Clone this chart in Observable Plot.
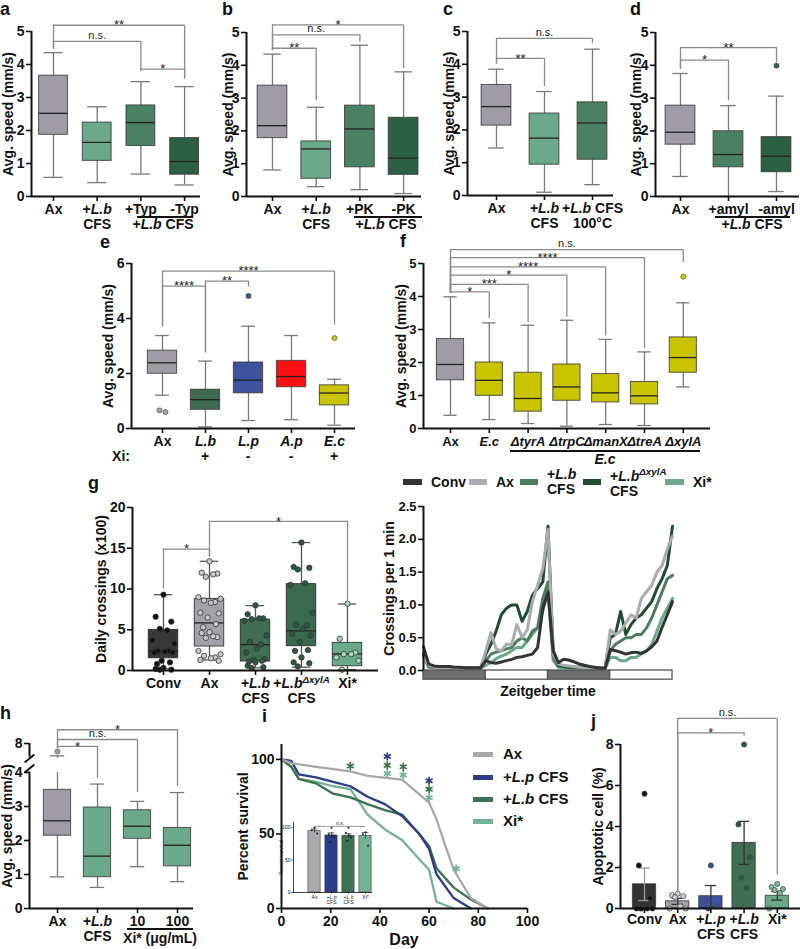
<!DOCTYPE html>
<html>
<head>
<meta charset="utf-8">
<script src="https://cdn.jsdelivr.net/npm/d3@7"></script>
<script src="https://cdn.jsdelivr.net/npm/@observablehq/plot@0.6"></script>
<style>
html,body{margin:0;padding:0;background:#fff;}
#fig{position:relative;width:800px;height:949px;overflow:hidden;background:#fff;font-family:"Liberation Sans",Arial,Helvetica,sans-serif;color:#111;}
#fig svg{position:absolute;overflow:visible;background:transparent;max-width:none;}
#fig .t{position:absolute;white-space:nowrap;line-height:1;}
#fig .ln{position:absolute;}
#fig sup{font-size:70%;vertical-align:baseline;position:relative;top:-0.6em;}
</style>
</head>
<body>
<div id="fig"></div>
<script>
// ================= DATA =================
// a
const aCats = ["Ax", "+_L.b_\nCFS", "+Typ", "-Typ"];
const aStats = [[0.58,1.87,2.52,3.66,4.36],[0.42,1.08,1.64,2.24,2.72],[0.68,1.53,2.24,2.76,3.48],[0.35,0.66,1.06,1.77,3.33]];
const aSig = [[0,3,5.19,4.46,3.56,"**"],[0,2,4.70,4.46,3.80,"n.s."],[2,3,3.86,3.80,3.56,"*"]];
// b
const bCats = ["Ax", "+_L.b_\nCFS", "+PK", "-PK"];
const bStats = [[0.81,1.78,2.16,3.38,4.34],[0.30,0.54,1.45,1.68,2.72],[0.21,0.89,2.06,2.77,4.61],[0.09,0.66,1.17,2.40,3.80]];
const bSig = [[0,3,5.23,4.45,3.90,"*"],[0,2,4.93,4.45,4.70,"n.s."],[0,1,4.52,4.45,2.92,"**"]];
// c
const cCats = ["Ax", "+_L.b_\nCFS", "+_L.b_ CFS\n100°C"];
const cStats = [[1.45,2.13,2.71,3.37,3.85],[0.10,0.94,1.75,2.50,3.17],[0.33,1.09,2.21,2.84,4.46]];
const cSig = [[0,2,4.79,4.0,4.63,"n.s."],[0,1,4.18,4.0,3.32,"**"]];
// d
const dCats = ["Ax", "+amyl", "-amyl"];
const dStats = [[0.61,1.58,1.96,2.77,3.75],[0.0,0.89,1.28,1.99,2.77],[0.15,0.74,1.23,1.81,3.06]];
const dOut = [[2,3.99]];
const dSig = [[0,2,4.54,3.88,4.08,"**"],[0,1,4.16,3.88,2.92,"*"]];
// e
const eCats = ["Ax","_L.b_","_L.p_","_A.p_","_E.c_"];
const eXi = ["", "+", "-", "-", "+"];
const eStats = [[1.21,1.99,2.39,2.83,3.38],[0.06,0.68,1.05,1.41,2.45],[0.29,1.28,1.76,2.40,3.72],[0.32,1.50,1.89,2.46,3.38],[0.12,0.84,1.29,1.57,1.79]];
const eOut = [[0,0.66],[0,0.60],[2,4.82],[4,3.29]];
const eSig = [[0,4,5.72,3.70,3.76,"****"],[0,1,5.18,3.70,2.75,"****"],[1,2,5.36,2.75,5.15,"**"]];
// f
const fCats = ["Ax","_E.c_","_ΔtyrA_","_ΔtrpC_","_ΔmanX_","_ΔtreA_","_ΔxylA_"];
const fStats = [[0.40,1.46,1.94,2.71,3.99],[0.27,0.99,1.46,2.00,3.20],[0.15,0.51,0.91,1.69,3.13],[0.07,0.84,1.26,1.94,3.28],[0.12,0.79,1.08,1.65,2.70],[0.09,0.73,0.99,1.41,2.32],[1.26,1.69,2.15,2.76,3.81]];
const fOut = [[6,4.60]];
const fSig = [[0,6,5.42,4.10,5.03,"n.s."],[0,5,5.18,4.10,2.43,"****"],[0,4,4.90,4.10,2.80,"****"],[0,3,4.65,4.10,3.37,"*"],[0,2,4.37,4.10,3.22,"***"],[0,1,4.14,4.10,3.33,"*"]];
// g (left)
const gCats = ["Conv","Ax","+_L.b_\nCFS","+_L.b_^_ΔxylA_^\nCFS","Xi*"];
const gStats = [[0.2,1.5,2.37,4.98,9.3],[1.3,2.94,5.84,8.78,13.4],[0.33,1.10,3.18,6.24,7.96],[0.4,2.98,4.86,10.6,15.7],[0.1,0.53,2.04,3.39,8.16]];
const gPts = [
  [9.3,6.6,6.0,5.1,4.9,3.7,3.3,2.4,2.4,2.3,2.2,2.2,1.2,1.0,0.8,0.3,0.2,0.1,0.1],
  [13.4,12.0,11.9,11.5,11.8,9.0,8.8,8.6,8.4,8.3,7.1,7.0,6.5,5.7,5.3,4.7,4.6,4.1,4.0,4.2,2.4,2.0,1.8,1.6,1.5,1.3,1.2],
  [8.0,6.9,6.4,6.3,6.4,6.1,4.3,3.5,3.2,2.7,2.2,1.4,1.3,1.2,1.1,1.0,0.6,0.4,0.3],
  [15.7,12.7,12.6,12.4,10.7,10.5,7.1,5.6,5.55,5.1,4.5,4.3,3.5,2.5,2.4,1.6,1.0,0.9,0.5],
  [8.2,3.9,2.2,2.0,2.0,1.6,1.2,0.1]
];
const gSig = [[0,1,14.9,10.0,13.9,"*"],[1,4,18.3,13.9,8.6,"*"]];
// g (right): crossings per 1 min, hourly Zeitgeber time
const gHours = [0,1,2,3,4,5,6,7,8,9,10,11,12,13,14,15,16,17,18,19,20,21,22,23,24,25,26,27,28,29,30,31,32,33,34,35,36,37,38,39,40,41,42,43,44,45,46,47,48];
const gConv = [0.36,0.10,0.07,0.06,0.06,0.06,0.05,0.05,0.04,0.04,0.04,0.04, 0.15,0.12,0.11,0.13,0.15,0.17,0.20,0.21,0.23,0.25,0.35,0.95, 1.20,0.30,0.12,0.17,0.16,0.13,0.10,0.08,0.06,0.05,0.03,0.03, 0.32,0.30,0.28,0.25,0.27,0.28,0.26,0.30,0.36,0.45,0.66,0.85,1.05];
const gAx   = [0.20,0.08,0.05,0.04,0.04,0.04,0.03,0.03,0.03,0.03,0.03,0.03, 0.30,0.58,0.33,0.30,0.40,0.40,0.70,0.50,0.62,1.05,1.30,1.55, 2.15,0.25,0.10,0.08,0.07,0.06,0.05,0.04,0.04,0.04,0.03,0.03, 0.62,0.55,0.60,0.72,0.85,0.80,1.10,1.20,1.30,1.50,1.60,1.85,2.05];
const gXyl  = [0.25,0.07,0.05,0.04,0.04,0.04,0.04,0.04,0.04,0.04,0.04,0.04, 0.25,0.40,0.60,0.85,0.95,1.00,1.00,0.75,0.90,1.15,1.25,1.35, 2.20,0.30,0.08,0.06,0.05,0.05,0.05,0.05,0.04,0.04,0.04,0.04, 0.50,0.55,0.90,0.55,0.70,0.80,0.85,0.95,1.05,1.25,1.40,1.60,2.20];
const gLb   = [0.22,0.06,0.05,0.04,0.04,0.04,0.04,0.04,0.04,0.04,0.04,0.04, 0.15,0.25,0.28,0.30,0.33,0.35,0.45,0.50,0.45,0.60,0.65,1.10, 1.35,0.20,0.07,0.06,0.05,0.05,0.04,0.04,0.04,0.04,0.04,0.04, 0.30,0.40,0.45,0.50,0.50,0.55,0.55,0.65,0.80,1.00,1.20,1.40,1.45];
const gXi   = [0.20,0.05,0.04,0.03,0.03,0.03,0.03,0.03,0.03,0.03,0.03,0.03, 0.08,0.12,0.18,0.22,0.25,0.30,0.35,0.35,0.45,0.55,0.65,0.90, 1.20,0.15,0.05,0.04,0.04,0.04,0.03,0.03,0.03,0.03,0.03,0.03, 0.20,0.20,0.15,0.15,0.20,0.20,0.25,0.30,0.40,0.60,0.80,0.95,1.10];
const ldStart = [0,12,24,36], ldEnd = [12,24,36,48], ldDark = [true,false,true,false];
// h
const hCats = ["Ax","+_L.b_\nCFS","10","100"];
const hStats = [[0.93,2.14,2.58,3.49,6.3],[0.62,0.92,1.54,2.97,3.66],[1.23,2.05,2.42,2.89,3.15],[0.79,1.24,1.86,2.37,3.41]];
const hOut = [[0,6.9]];
const hSig = [[0,3,9.9,7.3,3.59,"*"],[0,2,8.55,7.3,3.41,"n.s."],[0,1,7.6,7.3,3.82,"*"]];
// i survival
const iAxDay = [0,4,14,28,35,49,60,63,66,70,77,84];
const iAxPct = [100,97.5,95,92,89,86.5,71,60,45,26,7,0];
const iLpDay = [0,4,7,14,21,28,35,42,49,56,60,63,70,77];
const iLpPct = [100,99,90,88,85,82,75,70,62,50,40,23,7,0];
const iLbDay = [0,4,7,14,21,28,35,42,49,56,60,63,70,77,84];
const iLbPct = [100,95,87,84,77,74.5,70,66,63,50,42,27,14,6,0];
const iXiDay = [0,4,7,14,21,28,35,42,49,56,60,63,70];
const iXiPct = [100,95,87,85,82,80,63,53,46,33,26,4.5,0];
const iStarDay = [28,43,43,43,49.5,49.5,60,60,60,71];
const iStarPct = [95.5,102,96,90.5,95,89.5,85.7,80,74.3,26.8];
const iStarGrp = [2,1,2,3,2,3,1,2,3,3];
const insCats = ["Ax","+_L.p_\nCFS","+_L.b_\nCFS","Xi*"];
const insMean = [95,88,87.5,87.5];
const insSem = [3,4,3,5];
const insPts = [[100,96,91],[100,90,85,78,88],[100,92,85,80,88],[93,90,72]];
// j
const jCats = ["Conv","Ax","+_L.p_\nCFS","+_L.b_\nCFS","Xi*"];
const jMean = [1.18,0.35,0.60,3.20,0.62];
const jSem = [0.79,0.15,0.52,1.05,0.21];
const jPts = [[5.6,2.1,0.5,0,0,0,0,0],[0.72,0.65,0.6,0.55,0.1,0,0],[2.1,0.4,0.1,0],[8.0,4.1,2.5,1.5,1.0],[1.2,1.05,0.95,0.9,0.75,0]];
const jSig = [[1,4,9.27,0.85,1.63,"n.s."],[1,3,8.57,0.85,8.4,"*"]];

// ================= STYLE =================
const FONT = '"Liberation Sans", Arial, Helvetica, sans-serif';
const GRAY = "#a09ca6", LIGHT = "#6ca88a", MID = "#4c8062", DARK = "#2d6042";
const JIT = [0,-0.17,0.17,-0.08,0.08,-0.24,0.24,-0.12,0.12,0.03,-0.2,0.2,-0.04,0.14,-0.14];
const fig = document.getElementById("fig");
const NS = "http://www.w3.org/2000/svg";
const plain = s => s.replace(/[_^]/g, "");
const num = d => String(d);

function rich(el, markup) {
  while (el.firstChild) el.removeChild(el.firstChild);
  markup.split("\n").forEach((line, li) => {
    const lt = document.createElementNS(NS, "tspan");
    lt.setAttribute("x", "0");
    lt.setAttribute("dy", li === 0 ? "0" : "1.02em");
    let it = false, sup = false, buf = "";
    const flush = () => {
      if (!buf) return;
      const s = document.createElementNS(NS, "tspan");
      if (it) s.setAttribute("font-style", "italic");
      if (sup) { s.setAttribute("font-size", "70%"); s.setAttribute("baseline-shift", "50%"); }
      s.textContent = buf; lt.appendChild(s); buf = "";
    };
    for (const ch of line) {
      if (ch === "_") { flush(); it = !it; }
      else if (ch === "^") { flush(); sup = !sup; }
      else buf += ch;
    }
    flush();
    el.appendChild(lt);
  });
}
function richTicks(svg, labels) {
  svg.querySelectorAll('g[aria-label="x-axis tick label"] text').forEach((t, k) => { if (labels[k] != null) rich(t, labels[k]); });
}
function place(svg, left, top) { svg.style.left = left + "px"; svg.style.top = top + "px"; fig.appendChild(svg); }
function svgStyle(fs) { return `font-family:${FONT};font-size:${fs}px;font-weight:bold;background:transparent;overflow:visible;color:#111;`; }
function txt(x, base, html, size = 14, anchor = "start", weight = "bold") {
  const d = document.createElement("div");
  d.className = "t";
  d.style.fontSize = size + "px";
  d.style.fontWeight = weight;
  d.style.left = x + "px";
  d.style.top = (base - 0.846 * size).toFixed(1) + "px";
  if (anchor === "middle") d.style.transform = "translateX(-50%)";
  else if (anchor === "end") d.style.transform = "translateX(-100%)";
  d.innerHTML = html;
  fig.appendChild(d);
}
function rectDiv(x1, x2, yc, h, color) {
  const d = document.createElement("div");
  d.className = "ln";
  d.style.left = x1 + "px"; d.style.width = (x2 - x1) + "px";
  d.style.top = (yc - h / 2) + "px"; d.style.height = h + "px";
  d.style.background = color;
  fig.appendChild(d);
}
function yTitle(label, dx, fs = 14) {
  return Plot.text([label], {frameAnchor: "left", textAnchor: "middle", lineAnchor: "middle", rotate: -90, dx, fontSize: fs});
}
function brMarks(arr, fsStar = 13, fsTxt = 11) {
  const br = arr.map(([a, b, y, d1, d2, t]) => ({a, b, y, d1, d2, t}));
  const st = {stroke: "#8a8a8a", strokeWidth: 1.3};
  const mid = d => (d.a + d.b) / 2;
  return [
    Plot.ruleY(br, {y: "y", x1: "a", x2: "b", ...st}),
    Plot.ruleX(br, {x: "a", y1: "y", y2: "d1", ...st}),
    Plot.ruleX(br, {x: "b", y1: "y", y2: "d2", ...st}),
    Plot.text(br.filter(d => d.t.includes("*")), {x: mid, y: "y", text: "t", lineAnchor: "middle", fontSize: fsStar, fontWeight: "normal", fill: "#222"}),
    Plot.text(br.filter(d => !d.t.includes("*")), {x: mid, y: "y", text: "t", lineAnchor: "middle", dy: -6, fontSize: fsTxt, fontWeight: "normal", fill: "#222"})
  ];
}

function boxPanel(p) {
  const s = p.s, xd = [(p.x0 - p.c0) / s, (p.xe - p.c0) / s];
  const rows = p.stats.map((st, i) => ({i, min: st[0], q1: st[1], med: st[2], q3: st[3], max: st[4], color: p.colors[i]}));
  const hw = p.hw, cw = p.cw;
  const ws = {stroke: p.wc || "#7a7a7a", strokeWidth: 1.3};
  const y0 = p.yMin, y1 = p.yMax;
  const upTop = p.yBreak ? (d => Math.min(d.max, p.yBreak)) : "max";
  const marks = [
    Plot.ruleX(rows, {x: "i", y1: "min", y2: "q1", ...ws}),
    Plot.ruleX(rows, {x: "i", y1: "q3", y2: upTop, ...ws}),
    Plot.ruleY(rows, {y: "min", x1: d => d.i - cw, x2: d => d.i + cw, ...ws}),
    Plot.ruleY(rows, {y: "max", x1: d => d.i - cw, x2: d => d.i + cw, ...ws})
  ];
  if (p.yBreak) marks.push(Plot.ruleX(rows.filter(d => d.max > p.yBreak), {x: "i", y1: d => d.max - 0.35, y2: "max", ...ws}));
  marks.push(
    Plot.rect(rows, {x1: d => d.i - hw, x2: d => d.i + hw, y1: "q1", y2: "q3", fill: "color", stroke: p.boxStroke || "#333", strokeOpacity: 0.8, strokeWidth: 1}),
    Plot.ruleY(rows, {y: "med", x1: d => d.i - hw, x2: d => d.i + hw, stroke: "#222", strokeWidth: 1.3})
  );
  if (p.out) {
    const o = p.out.map((q) => {
      const same = p.out.filter(r => r[0] === q[0]);
      const idx = same.indexOf(q);
      return {i: q[0], v: q[1], dx: (idx - (same.length - 1) / 2) * 0.14, color: p.colors[q[0]]};
    });
    marks.push(Plot.dot(o, {x: d => d.i + d.dx, y: "v", r: 2.6, fill: "color", stroke: "#555", strokeWidth: 0.6}));
  }
  if (p.extra) marks.push(...p.extra(xd));
  marks.push(Plot.ruleY([y0], {stroke: "#111", strokeWidth: 2}));
  const segs = p.axisSegs || [[y0, y1]];
  marks.push(Plot.ruleX(segs, {x: xd[0], y1: d => d[0], y2: d => d[1], stroke: "#111", strokeWidth: 2}));
  if (p.slashes) marks.push(Plot.link(p.slashes, {x1: xd[0] - 0.12, x2: xd[0] + 0.12, y1: d => d - 0.55, y2: d => d + 0.55, stroke: "#111", strokeWidth: 2}));
  // axis ticks (for a transformed/broken scale, tick positions are given in transformed units)
  const tickPos = p.yTransform ? p.yTicks.map(p.yTransform) : p.yTicks;
  const tickFmt = p.yTransform ? (d => String(p.yTicks[tickPos.indexOf(d)])) : num;
  marks.push(
    Plot.axisY({ticks: tickPos, tickSize: 5, tickPadding: 2, label: null, strokeWidth: 1.6, tickFormat: tickFmt}),
    Plot.axisX({ticks: rows.map(d => d.i), tickSize: 5, tickPadding: 3, label: null, strokeWidth: 1.6, tickFormat: i => plain(p.cats[i]).split("\n")[0]}),
    yTitle(p.yLabel, p.yLabelX - p.x0)
  );
  if (p.sig) marks.push(...brMarks(p.sig));
  const yScale = p.yTransform
    ? {domain: [p.yTransform(y0), p.yTransform(y1)], transform: p.yTransform, label: null}
    : {domain: [y0, y1], label: null};
  const svg = Plot.plot({
    width: p.width, height: p.height,
    marginLeft: p.x0 - p.left, marginRight: p.left + p.width - p.xe,
    marginTop: p.yTopPx - p.top, marginBottom: p.top + p.height - p.y0px,
    x: {domain: xd, label: null},
    y: yScale,
    color: {type: "identity"},
    style: svgStyle(p.fs || 14),
    marks
  });
  richTicks(svg, p.cats);
  place(svg, p.left, p.top);
}

const SPEED = "Avg. speed (mm/s)";
// ---- a ----
boxPanel({left: 0, top: 0, width: 205, height: 240, x0: 31, xe: 200, c0: 53, s: 43.7, y0px: 196, yTopPx: 31,
  yMin: 0, yMax: 5, yTicks: [0,1,2,3,4,5], cats: aCats, stats: aStats, colors: [GRAY, LIGHT, MID, DARK],
  hw: 0.33, cw: 0.22, sig: aSig, yLabel: SPEED, yLabelX: 8});
// ---- b ----
boxPanel({left: 210, top: 0, width: 215, height: 240, x0: 246, xe: 421, c0: 272, s: 43.7, y0px: 196, yTopPx: 32,
  yMin: 0, yMax: 5, yTicks: [0,1,2,3,4,5], cats: bCats, stats: bStats, colors: [GRAY, LIGHT, MID, DARK],
  hw: 0.34, cw: 0.2, sig: bSig, yLabel: SPEED, yLabelX: 228});
// ---- c ----
boxPanel({left: 425, top: 0, width: 190, height: 240, x0: 467, xe: 613, c0: 496, s: 48, y0px: 195, yTopPx: 31,
  yMin: 0, yMax: 5, yTicks: [0,1,2,3,4,5], cats: cCats, stats: cStats, colors: [GRAY, LIGHT, MID],
  hw: 0.31, cw: 0.16, sig: cSig, yLabel: SPEED, yLabelX: 449});
// ---- d ----
boxPanel({left: 615, top: 0, width: 185, height: 240, x0: 655, xe: 799, c0: 680, s: 48, y0px: 196, yTopPx: 32,
  yMin: 0, yMax: 5, yTicks: [0,1,2,3,4,5], cats: dCats, stats: dStats, colors: [GRAY, MID, DARK], out: dOut,
  hw: 0.31, cw: 0.16, sig: dSig, yLabel: SPEED, yLabelX: 636});
// ---- e ----
boxPanel({left: 90, top: 240, width: 275, height: 225, x0: 131, xe: 355, c0: 162, s: 43, y0px: 428, yTopPx: 263,
  yMin: 0, yMax: 6, yTicks: [0,2,4,6], cats: eCats, stats: eStats, colors: [GRAY, "#3e6b50", "#3e52a0", "#ff1111", "#c8c400"], out: eOut,
  hw: 0.34, cw: 0.16, sig: eSig, yLabel: SPEED, yLabelX: 108});
// ---- f ----
boxPanel({left: 380, top: 240, width: 335, height: 225, x0: 423, xe: 710, c0: 450, s: 38.8, y0px: 428, yTopPx: 263,
  yMin: 0, yMax: 5, yTicks: [0,1,2,3,4,5], cats: fCats, stats: fStats, colors: [GRAY, "#c8c400", "#c8c400", "#c8c400", "#c8c400", "#c8c400", "#c8c400"], out: fOut,
  hw: 0.35, cw: 0.17, sig: fSig, yLabel: SPEED, yLabelX: 401, fs: 13});
// ---- g left ----
const gBoxCol = ["#383838", "#a4a1a8", "#3f6e53", "#3a6a4e", "#6aaa8a"];
const gDotFill = ["#111", "#c9c7cc", "#2b5a3f", "#2b5a3f", "#a8d6bd"];
boxPanel({left: 60, top: 495, width: 320, height: 215, x0: 132, xe: 378, c0: 163, s: 46, y0px: 670, yTopPx: 507,
  yMin: 0, yMax: 20, yTicks: [0,5,10,15,20], cats: gCats, stats: gStats, colors: gBoxCol, wc: "#555", boxStroke: "#222",
  hw: 0.32, cw: 0.2, sig: gSig, yLabel: "Daily crossings (x100)", yLabelX: 101,
  extra: () => {
    const pts = [];
    gPts.forEach((arr, i) => arr.forEach((v, k) => pts.push({i, v, k, color: gDotFill[i]})));
    return [Plot.dot(pts, {x: d => d.i + JIT[d.k % JIT.length], y: "v", r: 2.7, fill: "color", stroke: "#333", strokeWidth: 0.8})];
  }});
// ---- h (broken axis: 4..8 compressed) ----
const hBreak = v => v <= 4 ? v : 4 + (v - 4) * 0.2132;
boxPanel({left: 0, top: 735, width: 200, height: 214, x0: 29, xe: 193, c0: 57, s: 40, y0px: 908, yTopPx: 743,
  yMin: 0, yMax: 8, yTransform: hBreak, yTicks: [0,1,2,3,4,8], cats: hCats, stats: hStats, colors: [GRAY, LIGHT, LIGHT, LIGHT], out: hOut,
  hw: 0.34, cw: 0.18, yBreak: 4, axisSegs: [[0, 4.05], [6.1, 8]], slashes: [4.55, 5.93],
  sig: hSig, yLabel: SPEED, yLabelX: 7});

// ---- g right (line chart) ----
(function () {
  const left = 380, top = 495, width = 300, height = 205, x0 = 423, xe = 672, y0px = 670, yTopPx = 506;
  const ser = (arr) => gHours.map((t, k) => ({t, v: arr[k]}));
  const ld = ldStart.map((s, k) => ({x1: s, x2: ldEnd[k], fill: ldDark[k] ? "#6e6e6e" : "#ffffff"}));
  const L = (arr, c) => Plot.line(ser(arr), {x: "t", y: "v", stroke: c, strokeWidth: 3, strokeLinejoin: "round"});
  const svg = Plot.plot({
    width, height, marginLeft: x0 - left, marginRight: left + width - xe, marginTop: yTopPx - top, marginBottom: top + height - y0px,
    x: {domain: [0, 48], label: null, axis: null}, y: {domain: [0, 2.5], label: null}, color: {type: "identity"},
    style: svgStyle(13),
    marks: [
      L(gXi, "#6aaa8a"), L(gLb, "#4a7e5e"), L(gXyl, "#1f4d31"), L(gAx, "#acabb0"), L(gConv, "#333333"),
      Plot.rect(ld, {x1: "x1", x2: "x2", y1: -0.14, y2: 0, fill: "fill", stroke: "#555", strokeWidth: 1.3}),
      Plot.ruleX([0], {y1: 0, y2: 2.5, stroke: "#111", strokeWidth: 2}),
      Plot.axisY({ticks: [0, 0.5, 1, 1.5, 2, 2.5], tickFormat: ".1f", tickSize: 5, tickPadding: 2, label: null, strokeWidth: 1.6}),
      yTitle("Crossings per 1 min", 389 - x0)
    ]
  });
  place(svg, left, top);
})();

// ---- i (survival) ----
(function () {
  const left = 225, top = 735, width = 305, height = 214, x0 = 281, xe = 527, y0px = 908, yTopPx = 744;
  const cols = ["#a9a9ad", "#2b3c8c", "#3b7350", "#72b394"];
  const mk = (d, p) => d.map((x, k) => ({x, y: p[k]}));
  const L = (d, p, c) => Plot.line(mk(d, p), {x: "x", y: "y", stroke: c, strokeWidth: 2.3});
  const stars = iStarDay.map((d, k) => ({d, p: iStarPct[k], c: cols[iStarGrp[k]]}));
  const svg = Plot.plot({
    width, height, marginLeft: x0 - left, marginRight: left + width - xe, marginTop: yTopPx - top, marginBottom: top + height - y0px,
    x: {domain: [0, 100], label: null}, y: {domain: [0, 110], label: null}, color: {type: "identity"},
    style: svgStyle(14),
    marks: [
      L(iXiDay, iXiPct, cols[3]), L(iLbDay, iLbPct, cols[2]), L(iLpDay, iLpPct, cols[1]), L(iAxDay, iAxPct, cols[0]),
      Plot.dot(stars, {x: "d", y: "p", symbol: "asterisk", r: 3.8, stroke: "c", strokeWidth: 1.7}),
      Plot.ruleY([0], {stroke: "#111", strokeWidth: 2}),
      Plot.ruleX([0], {y1: 0, y2: 110, stroke: "#111", strokeWidth: 2}),
      Plot.axisX({ticks: [0, 20, 40, 60, 80, 100], tickSize: 5, tickPadding: 3, label: null, strokeWidth: 1.6, tickFormat: num}),
      Plot.axisY({ticks: [0, 50, 100], tickSize: 5, tickPadding: 2, label: null, strokeWidth: 1.6, tickFormat: num}),
      yTitle("Percent survival", 243 - x0)
    ]
  });
  place(svg, left, top);
  // inset
  const il = 262, it = 815, iw = 118, ih = 100, ix0 = 293, ixe = 372, ic0 = 314, is = 17, iy0 = 892, iyTop = 822;
  const ixd = [(ix0 - ic0) / is, (ixe - ic0) / is];
  const rows = insMean.map((m, i) => ({i, m, e: insSem[i], c: cols[i]}));
  const pts = [];
  insPts.forEach((arr, i) => arr.forEach((v, k) => pts.push({i, v, k})));
  const isvg = Plot.plot({
    width: iw, height: ih, marginLeft: ix0 - il, marginRight: il + iw - ixe, marginTop: iyTop - it, marginBottom: it + ih - iy0,
    x: {domain: ixd, label: null}, y: {domain: [0, 108], label: null}, color: {type: "identity"},
    style: svgStyle(5) + "font-weight:normal;",
    marks: [
      Plot.rect(rows, {x1: d => d.i - 0.36, x2: d => d.i + 0.36, y1: 0, y2: "m", fill: "c", stroke: "#333", strokeWidth: 0.5}),
      Plot.ruleX(rows, {x: "i", y1: d => d.m - d.e, y2: d => d.m + d.e, stroke: "#222", strokeWidth: 0.7}),
      Plot.ruleY(rows, {y: d => d.m + d.e, x1: d => d.i - 0.2, x2: d => d.i + 0.2, stroke: "#222", strokeWidth: 0.7}),
      Plot.dot(pts, {x: d => d.i + JIT[d.k] * 0.9, y: "v", r: 1, fill: "#222"}),
      Plot.ruleY([102], {x1: 0, x2: 3, stroke: "#555", strokeWidth: 0.6}),
      Plot.text(["n.s."], {x: 1.5, y: 102, dy: -3, fontSize: 5}),
      Plot.ruleY([0], {stroke: "#111", strokeWidth: 0.8}),
      Plot.ruleX([ixd[0]], {y1: 0, y2: 108, stroke: "#111", strokeWidth: 0.8}),
      Plot.axisX({ticks: [0, 1, 2, 3], tickSize: 2, tickPadding: 1, label: null, strokeWidth: 0.6, tickFormat: i => plain(insCats[i]).split("\n")[0]}),
      Plot.axisY({ticks: [0, 50, 100], tickSize: 2, tickPadding: 1, label: null, strokeWidth: 0.6, tickFormat: num}),
      yTitle("Percent survival", -12, 5)
    ]
  });
  richTicks(isvg, insCats);
  place(isvg, il, it);
})();

// ---- j (bars) ----
(function () {
  const left = 560, top = 700, width = 240, height = 249, x0 = 620, xe = 800, c0 = 644, s = 33.2, y0px = 908, yTopPx = 744;
  const xd = [(x0 - c0) / s, (xe - c0) / s];
  const barCol = ["#333333", "#a4a1a8", "#3e52a0", "#3f6e53", "#6aaa8a"];
  const dotCol = ["#111111", "#cfcdd2", "#3e52a0", "#2b5a3f", "#7dbb9a"];
  const rows = jMean.map((m, i) => ({i, m, e: jSem[i], c: barCol[i], ec: i === 0 ? "#9a9a9a" : "#333"}));
  const pts = [];
  jPts.forEach((arr, i) => arr.forEach((v, k) => pts.push({i, v, k, c: dotCol[i]})));
  const hw = 0.35;
  const svg = Plot.plot({
    width, height, marginLeft: x0 - left, marginRight: left + width - xe, marginTop: yTopPx - top, marginBottom: top + height - y0px,
    x: {domain: xd, label: null}, y: {domain: [0, 8], label: null}, color: {type: "identity"},
    style: svgStyle(14),
    marks: [
      Plot.rect(rows, {x1: d => d.i - hw, x2: d => d.i + hw, y1: 0, y2: "m", fill: "c", stroke: "#333", strokeOpacity: 0.8}),
      Plot.ruleX(rows, {x: "i", y1: d => d.m - d.e, y2: d => d.m + d.e, stroke: "ec", strokeWidth: 1.3}),
      Plot.ruleY(rows, {y: d => d.m + d.e, x1: d => d.i - 0.17, x2: d => d.i + 0.17, stroke: "ec", strokeWidth: 1.3}),
      Plot.ruleY(rows, {y: d => d.m - d.e, x1: d => d.i - 0.17, x2: d => d.i + 0.17, stroke: "ec", strokeWidth: 1.3}),
      Plot.dot(pts, {x: d => d.i + JIT[d.k % JIT.length], y: "v", r: 2.6, fill: "c", stroke: "#444", strokeWidth: 0.7}),
      ...brMarks(jSig),
      Plot.ruleY([0], {stroke: "#111", strokeWidth: 2}),
      Plot.ruleX([xd[0]], {y1: 0, y2: 8, stroke: "#111", strokeWidth: 2}),
      Plot.axisX({ticks: [0, 1, 2, 3, 4], tickSize: 5, tickPadding: 1, label: null, strokeWidth: 1.6, tickFormat: i => plain(jCats[i]).split("\n")[0]}),
      Plot.axisY({ticks: [0, 2, 4, 6, 8], tickSize: 5, tickPadding: 2, label: null, strokeWidth: 1.6, tickFormat: num}),
      yTitle("Apoptotic cell (%)", 598 - x0)
    ]
  });
  richTicks(svg, jCats);
  place(svg, left, top);
})();

// ================= HTML ANNOTATIONS =================
[["a",0,15],["b",222,15],["c",443,15],["d",630,15],["e",100,248],["f",400,247],["g",88,489],["h",0,719],["i",262,722],["j",591,727]]
  .forEach(([l, x, y]) => txt(x, y, l, 18));
rectDiv(137, 193, 217, 1.5, "#111"); txt(163, 229, "+<i>L.b</i> CFS", 14, "middle");
rectDiv(354, 422, 217, 1.5, "#111"); txt(386, 229, "+<i>L.b</i> CFS", 14, "middle");
rectDiv(715, 790, 217, 1.5, "#111"); txt(752, 229, "+<i>L.b</i> CFS", 14, "middle");
txt(130, 461, "Xi:", 14, "end");
eXi.forEach((t, i) => { if (t) txt(162 + i * 43, 461, t, 14, "middle"); });
rectDiv(510, 700, 451, 1.5, "#111"); txt(605, 464, "<i>E.c</i>", 14, "middle");
txt(548, 696, "Zeitgeber time", 14, "middle");
rectDiv(127, 193, 929, 1.5, "#111"); txt(160, 943, "Xi* (μg/mL)", 14, "middle");
txt(404, 945, "Day", 16, "middle");
// legend g
rectDiv(403, 422, 482, 6, "#333333"); txt(431, 487, "Conv", 14);
rectDiv(469, 487, 482, 6, "#acabb0"); txt(496, 487, "Ax", 14);
rectDiv(520, 538, 482, 6, "#4a7e5e"); txt(547, 479, "+<i>L.b</i>", 14); txt(547, 494, "CFS", 14);
rectDiv(583, 601, 482, 6, "#1f4d31"); txt(610, 481, "+<i>L.b</i><sup><i>ΔxylA</i></sup>", 14); txt(610, 496, "CFS", 14);
rectDiv(665, 684, 482, 6, "#6aaa8a"); txt(693, 487, "Xi*", 14);
// legend i
[["Ax", "#a9a9ad", 754], ["+<i>L.p</i> CFS", "#2b3c8c", 777], ["+<i>L.b</i> CFS", "#3b7350", 799], ["Xi*", "#72b394", 821]]
  .forEach(([t, c, y]) => { rectDiv(473, 493, y, 5, c); txt(503, y + 5, t, 15); });
</script>
</body>
</html>
